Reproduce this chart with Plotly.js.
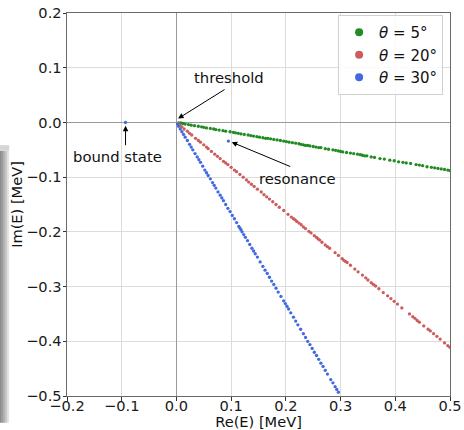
<!DOCTYPE html>
<html>
<head>
<meta charset="utf-8">
<script src="https://cdn.plot.ly/plotly-3.0.1.min.js"></script>
<style>html,body{margin:0;padding:0;background:#fff;}#chart{width:464px;height:430px;}</style>
</head>
<body>
<div id="chart"></div>
<script>
// ---- data ----
const seriesNames = ["<i>θ</i> = 5°", "<i>θ</i> = 20°", "<i>θ</i> = 30°"];
const seriesColors = ["#228B22", "#CD5C5C", "#4169E1"];

const green_x = [0.004,0.008,0.012,0.016,0.022,0.027,0.033,0.040,0.046,0.050,0.055,0.062,0.068,0.072,0.078,0.085,0.090,0.098,0.104,0.108,0.113,0.118,0.124,0.131,0.136,0.141,0.147,0.152,0.158,0.163,0.167,0.172,0.178,0.184,0.190,0.196,0.201,0.206,0.212,0.218,0.224,0.228,0.232,0.236,0.240,0.244,0.250,0.255,0.260,0.264,0.272,0.278,0.286,0.291,0.296,0.300,0.304,0.311,0.318,0.324,0.331,0.336,0.340,0.344,0.348,0.356,0.362,0.372,0.380,0.390,0.398,0.406,0.414,0.420,0.428,0.438,0.444,0.450,0.458,0.466,0.472,0.478,0.484,0.490,0.496,0.500];
const green_y = [-0.001,-0.001,-0.002,-0.003,-0.004,-0.005,-0.006,-0.007,-0.008,-0.009,-0.010,-0.011,-0.012,-0.013,-0.014,-0.015,-0.016,-0.017,-0.018,-0.019,-0.020,-0.021,-0.022,-0.023,-0.024,-0.025,-0.026,-0.027,-0.028,-0.029,-0.029,-0.030,-0.031,-0.032,-0.033,-0.034,-0.035,-0.036,-0.037,-0.038,-0.039,-0.040,-0.041,-0.042,-0.042,-0.043,-0.044,-0.045,-0.046,-0.046,-0.048,-0.049,-0.050,-0.051,-0.052,-0.053,-0.054,-0.055,-0.056,-0.057,-0.058,-0.059,-0.060,-0.061,-0.061,-0.063,-0.064,-0.066,-0.067,-0.069,-0.070,-0.072,-0.073,-0.074,-0.075,-0.077,-0.078,-0.079,-0.081,-0.082,-0.083,-0.084,-0.085,-0.086,-0.087,-0.088];

const red_x = [0.003,0.006,0.010,0.014,0.020,0.024,0.028,0.035,0.040,0.044,0.050,0.055,0.058,0.064,0.070,0.075,0.080,0.086,0.090,0.094,0.100,0.106,0.110,0.116,0.122,0.128,0.132,0.137,0.142,0.148,0.155,0.160,0.165,0.170,0.176,0.182,0.188,0.196,0.204,0.210,0.214,0.217,0.220,0.224,0.228,0.232,0.236,0.242,0.246,0.252,0.256,0.259,0.262,0.266,0.272,0.276,0.280,0.290,0.296,0.303,0.306,0.309,0.312,0.318,0.326,0.332,0.340,0.346,0.350,0.356,0.360,0.364,0.370,0.378,0.386,0.392,0.398,0.404,0.412,0.426,0.432,0.436,0.440,0.444,0.452,0.460,0.464,0.470,0.476,0.482,0.490,0.496,0.500];
const red_y = [-0.002,-0.005,-0.008,-0.012,-0.016,-0.020,-0.023,-0.029,-0.033,-0.036,-0.041,-0.045,-0.048,-0.053,-0.058,-0.062,-0.066,-0.071,-0.074,-0.077,-0.082,-0.087,-0.090,-0.095,-0.100,-0.105,-0.109,-0.113,-0.117,-0.122,-0.127,-0.132,-0.136,-0.140,-0.145,-0.150,-0.155,-0.161,-0.168,-0.173,-0.176,-0.178,-0.181,-0.184,-0.187,-0.191,-0.194,-0.199,-0.202,-0.207,-0.210,-0.213,-0.215,-0.219,-0.224,-0.227,-0.230,-0.238,-0.243,-0.249,-0.252,-0.254,-0.256,-0.261,-0.268,-0.273,-0.279,-0.284,-0.288,-0.293,-0.296,-0.299,-0.304,-0.311,-0.317,-0.322,-0.327,-0.332,-0.339,-0.350,-0.355,-0.358,-0.362,-0.365,-0.372,-0.378,-0.381,-0.386,-0.391,-0.396,-0.403,-0.408,-0.411];

const blue_x = [-0.093,0.095,0.002,0.004,0.007,0.010,0.013,0.016,0.020,0.024,0.027,0.030,0.034,0.038,0.041,0.044,0.048,0.052,0.055,0.058,0.062,0.066,0.069,0.072,0.076,0.080,0.083,0.086,0.090,0.094,0.098,0.102,0.106,0.110,0.114,0.116,0.118,0.120,0.123,0.126,0.130,0.134,0.138,0.141,0.144,0.148,0.153,0.158,0.162,0.166,0.170,0.174,0.178,0.182,0.186,0.191,0.196,0.199,0.202,0.205,0.209,0.214,0.218,0.222,0.227,0.232,0.236,0.240,0.244,0.248,0.252,0.256,0.260,0.264,0.268,0.272,0.276,0.282,0.286,0.290,0.293,0.296];
const blue_y = [0.000,-0.034,-0.003,-0.007,-0.012,-0.017,-0.022,-0.027,-0.033,-0.040,-0.045,-0.050,-0.057,-0.063,-0.068,-0.073,-0.080,-0.087,-0.092,-0.097,-0.103,-0.110,-0.115,-0.120,-0.127,-0.133,-0.138,-0.143,-0.150,-0.157,-0.163,-0.170,-0.176,-0.183,-0.190,-0.193,-0.196,-0.200,-0.205,-0.210,-0.216,-0.223,-0.230,-0.235,-0.240,-0.246,-0.255,-0.263,-0.270,-0.276,-0.283,-0.290,-0.296,-0.303,-0.310,-0.318,-0.326,-0.331,-0.336,-0.341,-0.348,-0.356,-0.363,-0.370,-0.378,-0.386,-0.393,-0.400,-0.406,-0.413,-0.420,-0.426,-0.433,-0.440,-0.446,-0.453,-0.460,-0.470,-0.476,-0.483,-0.488,-0.493];

const tickVals = [-0.5,-0.4,-0.3,-0.2,-0.1,0.0,0.1,0.2,0.3,0.4,0.5];

// ---- build the figure ----
const xs = [green_x, red_x, blue_x];
const ys = [green_y, red_y, blue_y];
const traces = xs.map((x, i) => ({
  type: "scatter", mode: "markers", x: x, y: ys[i], name: seriesNames[i],
  legendgroup: "g" + i, showlegend: false,
  marker: {color: seriesColors[i], size: 3.3, line: {width: 0}},
  hoverinfo: "skip"
}));
// legend entries (same series, larger legend symbol as in the reference)
seriesNames.forEach((n, i) => traces.push({
  type: "scatter", mode: "markers", x: [null], y: [null], name: n,
  legendgroup: "g" + i, showlegend: true,
  marker: {color: seriesColors[i], size: 8, line: {width: 0}}
}));

const FONT = "DejaVu Sans, sans-serif";
const axisCommon = {
  showgrid: true, gridcolor: "#dcdcdc", gridwidth: 1,
  zeroline: true, zerolinecolor: "#9a9a9a", zerolinewidth: 1.6,
  showline: true, linecolor: "#6a6a6a", linewidth: 1, mirror: true,
  ticks: "outside", ticklen: 3.5, tickwidth: 1, tickcolor: "#333",
  tickvals: tickVals, tickformat: ".1f",
  tickfont: {family: FONT, size: 14.6, color: "#1a1a1a"},
  fixedrange: true, automargin: false
};

function bar(x0, x1, y0, y1, c) {
  return {type: "rect", xref: "paper", yref: "paper", x0: x0, x1: x1, y0: y0, y1: y1,
          fillcolor: c, line: {width: 0}, layer: "below"};
}
const shapes = [
  bar(-0.175, -0.170, -0.07, 0.640, "#8c8c8c"),
  bar(-0.170, -0.165, -0.07, 0.640, "#9c9c9c"),
  bar(-0.165, -0.160, -0.07, 0.640, "#b0b0b0"),
  bar(-0.160, -0.155, -0.07, 0.640, "#c8c8c8"),
  bar(-0.155, -0.151, -0.07, 0.640, "#e4e4e4"),
  bar(-0.175, -0.151, 0.640, 0.655, "#d6d6d6")
];

function arrow(xv, yv, ax, ay) {
  return {x: xv, y: yv, xref: "x", yref: "y", text: "", showarrow: true,
          ax: ax, ay: ay, arrowhead: 2, arrowsize: 1.1, arrowwidth: 1,
          arrowcolor: "#000", standoff: 0, startstandoff: 0};
}
function label(xv, yv, t) {
  return {x: xv, y: yv, xref: "x", yref: "y", text: t, showarrow: false,
          font: {family: FONT, size: 14.8, color: "#111"}, xanchor: "center", yanchor: "middle"};
}

const annotations = [
  label(0.0956, 0.0828, "threshold"),
  arrow(0.003, 0.007, 48, -30),
  label(-0.108, -0.063, "bound state"),
  arrow(-0.093, -0.006, 0, 21),
  label(0.222, -0.102, "resonance"),
  arrow(0.101, -0.036, 60, 25)
];

const layout = {
  width: 464, height: 430,
  margin: {l: 67, r: 14, t: 13, b: 34, pad: 0},
  paper_bgcolor: "#fff", plot_bgcolor: "#fff",
  font: {family: FONT, size: 14.6, color: "#111"},
  showlegend: true,
  legend: {
    x: 0.982, y: 0.995, xanchor: "right", yanchor: "top",
    bgcolor: "rgba(255,255,255,0.85)", bordercolor: "#d0d0d0", borderwidth: 1,
    font: {family: FONT, size: 15, color: "#111"},
    tracegroupgap: 0
  },
  xaxis: Object.assign({}, axisCommon, {
    range: [-0.2, 0.5], ticklabelstandoff: -7,
    title: {text: "Re(E) [MeV]", font: {family: FONT, size: 14.6, color: "#111"}, standoff: 0}
  }),
  yaxis: Object.assign({}, axisCommon, {
    range: [-0.5, 0.2], ticklabelstandoff: -2,
    title: {text: "Im(E) [MeV]", font: {family: FONT, size: 14.6, color: "#111"}, standoff: 0}
  }),
  shapes: shapes,
  annotations: annotations,
  hovermode: false
};

Plotly.newPlot("chart", traces, layout, {displayModeBar: false, staticPlot: true});
</script>
</body>
</html>
